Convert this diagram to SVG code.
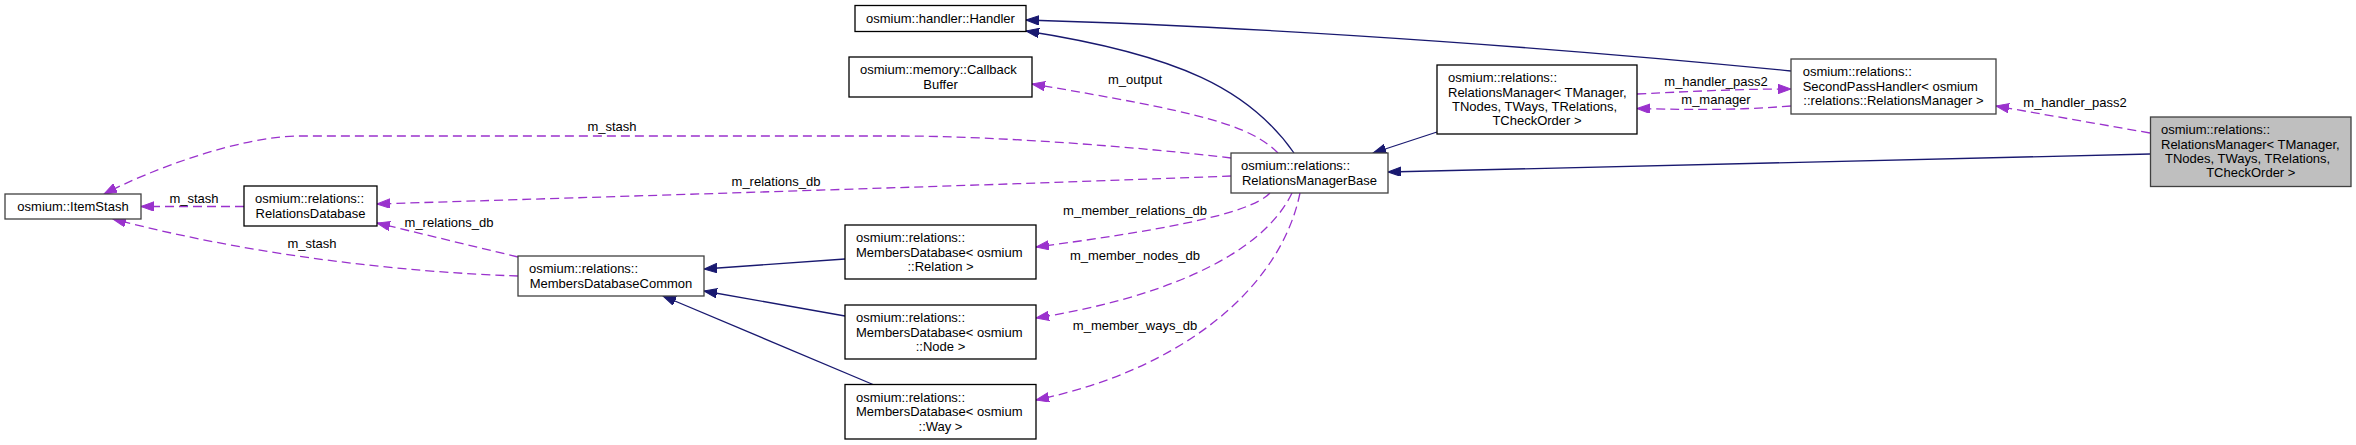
<svg xmlns="http://www.w3.org/2000/svg" width="2356" height="445" viewBox="0 0 2356 445">
<style>
text{font-family:"Liberation Sans",Arial,Helvetica,sans-serif;font-size:13px;fill:#000}
.c{text-anchor:middle}
.box{fill:#fff;stroke:#000;stroke-width:1.3}
.gb{fill:#fff;stroke:#404040;stroke-width:1.3}
.root{fill:#bfbfbf;stroke:#404040;stroke-width:1.3}
.inh{fill:none;stroke:#191970;stroke-width:1.3;marker-end:url(#ah)}
.use{fill:none;stroke:#9a32cd;stroke-width:1.3;stroke-dasharray:9,5;marker-end:url(#ap)}
</style>
<defs>
<marker id="ah" markerWidth="14" markerHeight="10" refX="13" refY="4.7" orient="auto" markerUnits="userSpaceOnUse"><path d="M0,0 L13,4.7 L0,9.4 z" fill="#191970" stroke="#191970" stroke-width="1"/></marker>
<marker id="ap" markerWidth="14" markerHeight="10" refX="13" refY="4.7" orient="auto" markerUnits="userSpaceOnUse"><path d="M0,0 L13,4.7 L0,9.4 z" fill="#9a32cd" stroke="#9a32cd" stroke-width="1"/></marker>
</defs>
<rect width="2356" height="445" fill="#fff"/>
<g id="connectors">
<path class="inh" d="M1791,71 C1600,52 1300,28 1026,20"/>
<path class="inh" d="M1294,153 C1250,90 1180,55 1026,31"/>
<path class="inh" d="M1437,132 L1373,153"/>
<path class="inh" d="M2150,154 C1900,160 1650,166 1388,172"/>
<path class="inh" d="M845,259 L704,269"/>
<path class="inh" d="M845,316 L704,291"/>
<path class="inh" d="M873,384.5 L663,296"/>
<path class="use" d="M1231,158 C1150,148 1000,136 900,136 L300,136 C240,136 150,170 104,194"/>
<path class="use" d="M244,206.5 L141,206.5"/>
<path class="use" d="M518,276 C400,272 250,255 113,219"/>
<path class="use" d="M518,257 L377,223"/>
<path class="use" d="M1231,176 C1000,185 600,197 377,204"/>
<path class="use" d="M1278,153 C1250,125 1200,112 1032,84"/>
<path class="use" d="M1270,193 C1250,215 1150,232 1036,247"/>
<path class="use" d="M1292,193 C1260,260 1150,300 1036,318"/>
<path class="use" d="M1300,193 C1280,290 1180,370 1036,400"/>
<path class="use" d="M1637,94 C1700,91 1740,89 1791,89"/>
<path class="use" d="M1791,106 C1740,110 1700,110 1637,108.5"/>
<path class="use" d="M2150,133 L1996,106"/>
<text class="c" x="612" y="131.4">m_stash</text>
<text class="c" x="194" y="202.7">m_stash</text>
<text class="c" x="312" y="248">m_stash</text>
<text class="c" x="449" y="226.5">m_relations_db</text>
<text class="c" x="776" y="186.4">m_relations_db</text>
<text class="c" x="1135" y="83.7">m_output</text>
<text class="c" x="1135" y="215.4">m_member_relations_db</text>
<text class="c" x="1135" y="260.4">m_member_nodes_db</text>
<text class="c" x="1135" y="330.4">m_member_ways_db</text>
<text class="c" x="1716" y="86.4">m_handler_pass2</text>
<text class="c" x="1716" y="103.7">m_manager</text>
<text class="c" x="2075" y="107">m_handler_pass2</text>
</g>
<g id="n_itemstash"><rect class="gb" x="5" y="194" width="136" height="25"/><text class="c" x="73" y="211">osmium::ItemStash</text></g>
<g id="n_relationsdb"><rect class="box" x="244" y="186" width="133" height="40"/><text x="255" y="203.4">osmium::relations::</text><text class="c" x="310.5" y="217.7">RelationsDatabase</text></g>
<g id="n_mdc"><rect class="gb" x="518" y="256" width="186" height="40"/><text x="529" y="273.4">osmium::relations::</text><text class="c" x="611" y="287.7">MembersDatabaseCommon</text></g>
<g id="n_handler"><rect class="box" x="855" y="5.5" width="171" height="26"/><text class="c" x="940.5" y="23">osmium::handler::Handler</text></g>
<g id="n_callback"><rect class="box" x="849" y="57" width="183" height="40"/><text x="860" y="74.4">osmium::memory::Callback</text><text class="c" x="940.5" y="88.7">Buffer</text></g>
<g id="n_mdb_rel"><rect class="box" x="845" y="225" width="191" height="54"/><text x="856" y="242.4">osmium::relations::</text><text x="856" y="256.7">MembersDatabase&lt; osmium</text><text class="c" x="940.5" y="271">::Relation &gt;</text></g>
<g id="n_mdb_node"><rect class="box" x="845" y="305" width="191" height="54"/><text x="856" y="322.4">osmium::relations::</text><text x="856" y="336.7">MembersDatabase&lt; osmium</text><text class="c" x="940.5" y="351">::Node &gt;</text></g>
<g id="n_mdb_way"><rect class="box" x="845" y="384.5" width="191" height="54.5"/><text x="856" y="402">osmium::relations::</text><text x="856" y="416.3">MembersDatabase&lt; osmium</text><text class="c" x="940.5" y="430.6">::Way &gt;</text></g>
<g id="n_rmbase"><rect class="gb" x="1231" y="153" width="157" height="40"/><text x="1241" y="170.4">osmium::relations::</text><text class="c" x="1309.5" y="184.7">RelationsManagerBase</text></g>
<g id="n_rm_mid"><rect class="box" x="1437" y="65" width="200" height="69"/><text x="1448" y="82.4">osmium::relations::</text><text x="1448" y="96.7">RelationsManager&lt; TManager,</text><text x="1452" y="111">TNodes, TWays, TRelations,</text><text class="c" x="1537" y="125.3">TCheckOrder &gt;</text></g>
<g id="n_sph"><rect class="gb" x="1791" y="59" width="205" height="55"/><text x="1802.7" y="76.4">osmium::relations::</text><text x="1802.7" y="90.7">SecondPassHandler&lt; osmium</text><text class="c" x="1893.5" y="105">::relations::RelationsManager &gt;</text></g>
<g id="n_rm_root"><rect class="root" x="2150.5" y="117" width="200.5" height="69.5"/><text x="2161" y="134.4">osmium::relations::</text><text x="2161" y="148.7">RelationsManager&lt; TManager,</text><text x="2165" y="163">TNodes, TWays, TRelations,</text><text class="c" x="2250.8" y="177.3">TCheckOrder &gt;</text></g>
</svg>
